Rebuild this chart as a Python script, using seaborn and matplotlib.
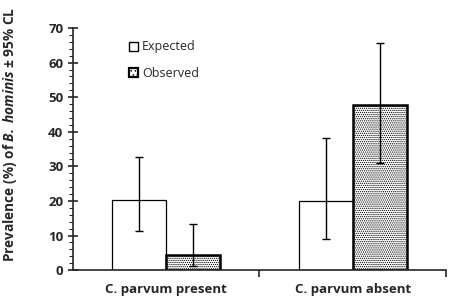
import pandas as pd
import matplotlib
matplotlib.use("Agg")
import matplotlib.pyplot as plt
from matplotlib.patches import Patch
from matplotlib.ticker import MultipleLocator
import seaborn as sns

# data
groups = ["C. parvum present", "C. parvum absent"]
series = ["Expected", "Observed"]
expected = [20.2, 20.1]
observed = [4.5, 47.6]
expected_lo = [11.4, 9.1]
expected_hi = [32.8, 38.1]
observed_lo = [1.2, 31.0]
observed_hi = [13.4, 65.7]

df = pd.DataFrame({
    "group": groups * 2,
    "series": [series[0]] * 2 + [series[1]] * 2,
    "value": expected + observed,
    "lo": expected_lo + observed_lo,
    "hi": expected_hi + observed_hi,
})

sns.set_style("ticks")
plt.rcParams["font.family"] = ["Open Sans", "DejaVu Sans"]
plt.rcParams["hatch.linewidth"] = 0.6
plt.rcParams["mathtext.fontset"] = "custom"
plt.rcParams["mathtext.bfit"] = "Open Sans:bold:italic"

fig = plt.figure(figsize=(4.54, 3.08), dpi=100)
ax = fig.add_axes([0.161, 0.123, 0.821, 0.786])

sns.barplot(data=df, x="group", y="value", hue="series", order=groups,
            hue_order=series, width=0.58, gap=0, errorbar=None,
            palette=["white", "white"], edgecolor="black", linewidth=0.9,
            legend=False, ax=ax)

# style observed bars and add CI whiskers
for cont, s in zip(ax.containers, series):
    sub = df[df["series"] == s].set_index("group").loc[groups]
    for bar, (_, row) in zip(cont, sub.iterrows()):
        if s == "Observed":
            bar.set_hatch("........")
            bar.set_linewidth(1.8)
        cx = bar.get_x() + bar.get_width() / 2
        ax.errorbar(cx, row["value"],
                    yerr=[[row["value"] - row["lo"]], [row["hi"] - row["value"]]],
                    fmt="none", ecolor="black", elinewidth=1.0, capsize=3, capthick=1.0)

ax.set_xlim(-0.5, 1.5)
ax.set_ylim(0, 70)
ax.yaxis.set_major_locator(MultipleLocator(10))
ax.yaxis.set_minor_locator(MultipleLocator(2))
ax.set_xticks([0.5, 1.5], minor=True)
ax.tick_params(axis="x", which="major", length=0, pad=9)
ax.tick_params(axis="x", which="minor", length=5, width=1.2, direction="out")
ax.tick_params(axis="y", which="major", length=7, width=1.2, direction="inout")
ax.tick_params(axis="y", which="minor", length=3, width=0.8, direction="out")
for lab in ax.get_xticklabels() + ax.get_yticklabels():
    lab.set_fontweight("bold")
    lab.set_fontsize(9.5)
ax.set_xlabel("")
ax.set_ylabel(r"Prevalence (%) of $\mathbfit{B.\;hominis}$ ± 95% CL",
              fontsize=9.8, fontweight="bold")
ax.yaxis.set_label_coords(-0.145, 0.56)
ax.spines["top"].set_visible(False)
ax.spines["right"].set_visible(False)
ax.spines["left"].set_linewidth(1.2)
ax.spines["bottom"].set_linewidth(1.2)

handles = [Patch(facecolor="white", edgecolor="black", linewidth=1.0, label=series[0]),
           Patch(facecolor="white", edgecolor="black", linewidth=1.6, hatch="....", label=series[1])]
ax.legend(handles=handles, loc="upper left", bbox_to_anchor=(0.12, 0.995), frameon=False,
          fontsize=9, handlelength=0.75, handleheight=0.75, handletextpad=0.3, labelspacing=1.05)

plt.savefig("out.png", dpi=100)
